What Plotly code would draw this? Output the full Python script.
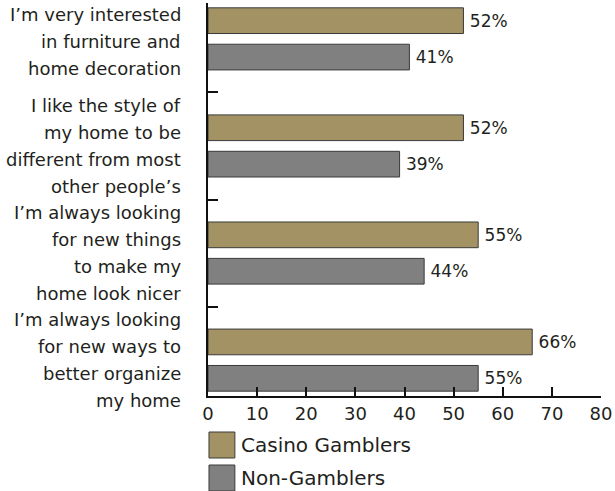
import plotly.graph_objects as go

# statements, top to bottom
statements = [
    ["I’m very interested", "in furniture and", "home decoration"],
    ["I like the style of", "my home to be", "different from most", "other people’s"],
    ["I’m always looking", "for new things", "to make my", "home look nicer"],
    ["I’m always looking", "for new ways to", "better organize", "my home"],
]
series_names = ["Casino Gamblers", "Non-Gamblers"]
casino = [52, 52, 55, 66]
non_gamblers = [41, 39, 44, 55]
x_ticks = [0, 10, 20, 30, 40, 50, 60, 70, 80]

GOLD = "#a39364"
GRAY = "#808080"
EDGE = "#3a3a3a"
TEXT = "#231f20"
FONT = "DejaVu Sans"

W, H = 615, 491
L, R, T, B = 208, 12, 3, 95
pw, ph = W - L - R, H - T - B


def px_x(x):
    return (x - L) / pw


def px_y(y):
    return (H - B - y) / ph


pos = list(range(len(statements)))

fig = go.Figure()
fig.add_trace(go.Bar(
    x=casino, y=pos, orientation="h", name=series_names[0],
    width=0.24, offset=-0.29,
    marker=dict(color=GOLD, line=dict(color=EDGE, width=1)),
    texttemplate="\u2009%{x}%", textposition="outside", cliponaxis=False,
    textfont=dict(size=17, color=TEXT, family=FONT),
))
fig.add_trace(go.Bar(
    x=non_gamblers, y=pos, orientation="h", name=series_names[1],
    width=0.24, offset=0.05,
    marker=dict(color=GRAY, line=dict(color=EDGE, width=1)),
    texttemplate="\u2009%{x}%", textposition="outside", cliponaxis=False,
    textfont=dict(size=17, color=TEXT, family=FONT),
))

# multi-line category labels, one annotation per line for wider line spacing
LINE = 27
for i, lines in enumerate(statements):
    n = len(lines)
    for j, txt in enumerate(lines):
        fig.add_annotation(
            text=txt, xref="paper", yref="y", x=0, y=i,
            xanchor="right", yanchor="middle", xshift=-25,
            yshift=((n - 1) / 2 - j) * LINE - (3 if n == 3 else 0),
            showarrow=False, font=dict(size=18, color=TEXT, family=FONT),
        )

# legend drawn as boxes + labels below the axis
for k, (name, col) in enumerate(zip(series_names, [GOLD, GRAY])):
    top = 432 + k * 33
    fig.add_shape(
        type="rect", xref="paper", yref="paper",
        x0=px_x(209), x1=px_x(235), y0=px_y(top + 26), y1=px_y(top),
        fillcolor=col, line=dict(color=EDGE, width=1),
    )
    fig.add_annotation(
        text=name, xref="paper", yref="paper", x=px_x(239), y=px_y(top + 13),
        xanchor="left", yanchor="middle", showarrow=False,
        font=dict(size=20, color=TEXT, family=FONT),
    )

fig.update_layout(
    width=W, height=H,
    margin=dict(l=L, r=R, t=T, b=B),
    paper_bgcolor="white", plot_bgcolor="white",
    showlegend=False,
    font=dict(family=FONT, color=TEXT),
    xaxis=dict(
        range=[0, 80], tickvals=x_ticks, ticks="inside", ticklen=9,
        tickwidth=2, tickcolor="#111", showline=True, linecolor="#111",
        linewidth=2, showgrid=False, zeroline=False,
        tickfont=dict(size=18, color=TEXT, family=FONT),
    ),
    yaxis=dict(
        range=[3.335, -0.335], tickvals=[0.5, 1.5, 2.5], ticks="inside",
        ticklen=10, tickwidth=2, tickcolor="#111", showticklabels=False,
        showline=True, linecolor="#111", linewidth=2, showgrid=False,
        zeroline=False,
    ),
)

# drop the default page margin so the figure sits at the window origin
fig.write_html(
    "out.html",
    config={"displayModeBar": False},
    post_script="document.body.style.margin='0';",
)
